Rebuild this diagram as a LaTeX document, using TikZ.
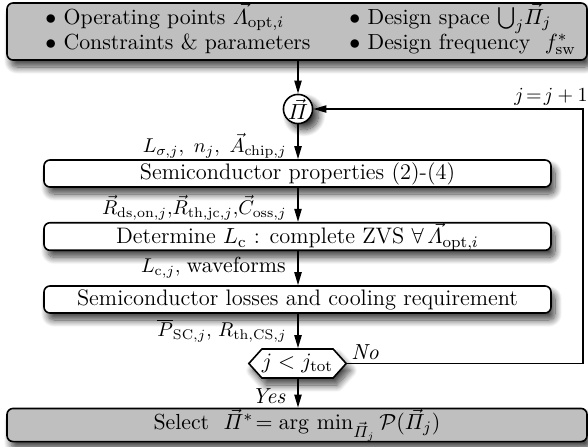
\documentclass[tikz,border=0pt]{standalone}
\usepackage{amsmath,amssymb}
\usetikzlibrary{arrows.meta,shapes.symbols,shadows.blur}
\begin{document}
\begin{tikzpicture}[x=0.5pt,y=-0.5pt,
  font=\fontsize{10.9}{13}\selectfont,
  shad/.style={blur shadow={shadow xshift=2pt,shadow yshift=-3.5pt,shadow blur radius=3.5pt,shadow blur steps=12,shadow opacity=75}},
  graybox/.style={draw,line width=0.8pt,rounded corners=3pt,fill=black!25,shad,inner sep=0pt},
  whitebox/.style={draw,line width=0.8pt,rounded corners=3pt,fill=white,shad,minimum width=253.5pt,minimum height=13.5pt,inner sep=0pt,
     font=\fontsize{11.2}{13}\selectfont},
  arr/.style={line width=0.8pt,-{Triangle[length=6.5pt,width=3.6pt]}},
  lbl/.style={anchor=east,inner sep=0pt,font=\fontsize{9.6}{12}\selectfont},
]
\useasboundingbox (0,0) rectangle (588,446);

% top box
\node[graybox,minimum width=290pt,minimum height=28.5pt] (top) at (297,31.5) {};
\node[anchor=base west,inner sep=0pt] (t1) at (45,24) {$\bullet$ Operating points $\vec{\varLambda}_{\mathrm{opt},i}$};
\node[anchor=base west,inner sep=0pt] (t2) at (349,24) {$\bullet$ Design space ${\textstyle\bigcup_j} \vec{\varPi}_j$};
\node[anchor=base west,inner sep=0pt] (t3) at (45,49) {$\bullet$ Constraints \& parameters};
\node[anchor=base west,inner sep=0pt] (t4) at (349,49) {$\bullet$ Design frequency \ $f^*_{\mathrm{sw}}$};

% circle
\node[draw,circle,line width=0.8pt,fill=white,minimum size=14.5pt,inner sep=0pt,
      blur shadow={shadow xshift=3pt,shadow yshift=-3pt,shadow blur radius=3.5pt,shadow blur steps=12,shadow opacity=80}] (circ) at (298,109) {$\vec{\varPi}$};

% boxes
\node[whitebox] (b1) at (297.5,173.5) {Semiconductor properties (2)-(4)};
\node[whitebox] (b2) at (297.5,236.5) {Determine $L_{\mathrm{c}}$ : complete ZVS $\forall\,\vec{\varLambda}_{\mathrm{opt},i}$};
\node[whitebox] (b3) at (297.5,299.5) {Semiconductor losses and cooling requirement};

% decision
\node[draw,signal,signal to=west and east,signal pointer angle=96,line width=0.8pt,fill=white,shad,
      minimum width=45.5pt,minimum height=14.5pt,inner sep=0pt] (hex) at (297.5,363.5) {$j < j_{\mathrm{tot}}$};

% bottom box
\node[graybox,minimum width=290pt,minimum height=14pt] (bot) at (297,425)
  {Select \ $\vec{\varPi}^*\!= \arg\,\min_{\vec{\varPi}_j} \mathcal{P}(\vec{\varPi}_j)$};

% labels
\node[lbl] (l1) at (287,146) {$L_{\sigma,j},\ n_j,\ \vec{A}_{\mathrm{chip},j}$};
\node[lbl] (l2) at (287,208) {$\vec{R}_{\mathrm{ds,on},j},\!\vec{R}_{\mathrm{th,jc},j},\!\vec{C}_{\mathrm{oss},j}$};
\node[lbl] (l3) at (286,268) {$L_{\mathrm{c},j}$, {\fontsize{10.9}{13}\selectfont waveforms}};
\node[lbl] (l4) at (287,331) {$\overline{P}_{\mathrm{SC},j}$, $R_{\mathrm{th,CS},j}$};
\node[anchor=east,inner sep=0pt] (yes) at (286,396) {\textit{Yes}};
\node[inner sep=0pt] (no) at (365,352) {\textit{No}};
\node[inner sep=0pt,font=\fontsize{10}{12}\selectfont] (jj) at (551,97) {$j\!=\!j+1$};

% connectors
\coordinate (fbr) at (583,363.5);
\coordinate (fbt) at (583,109);
\draw[arr] (top.south -| circ) -- (circ.north);
\draw[arr] (circ.south) -- (b1.north -| circ);
\draw[arr] (b1.south -| circ) -- (b2.north -| circ);
\draw[arr] (b2.south -| circ) -- (b3.north -| circ);
\draw[arr] (b3.south -| circ) -- (hex.north -| circ);
\draw[arr] (hex.south -| circ) -- (bot.north -| circ);
\draw[arr] (hex.east) -- (fbr) -- (fbt) -- (circ.east);
\end{tikzpicture}
\end{document}
